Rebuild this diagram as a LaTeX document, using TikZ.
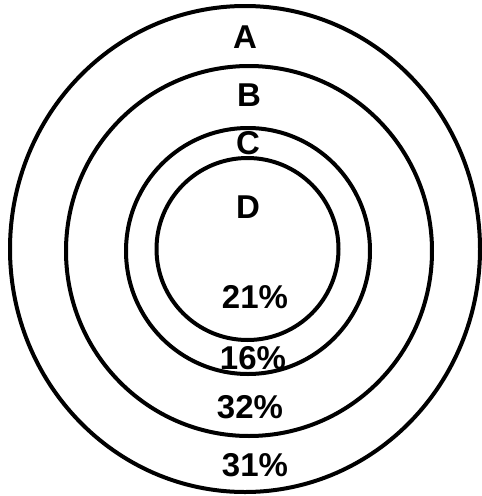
\documentclass[tikz,border=0pt]{standalone}
\usepackage{fontspec}
\setmainfont{Liberation Sans}
\begin{document}
\begin{tikzpicture}[x=1pt,y=-1pt,
  ring/.style={draw=black,line width=4pt},
  lab/.style={font=\fontsize{33}{33}\selectfont\bfseries,inner sep=0pt}]
\useasboundingbox (0,0) rectangle (482,496);
\draw[ring] (245,249) ellipse [x radius=235,y radius=243];
\draw[ring] (249,251) ellipse [x radius=183,y radius=185];
\draw[ring] (248,251) ellipse [x radius=122,y radius=123];
\draw[ring] (247.5,249) ellipse [x radius=91,y radius=91];
\node[lab] (a) at (245,37) {A};
\node[lab] (b) at (249,95) {B};
\node[lab] (c) at (248,143) {C};
\node[lab] (d) at (248,207) {D};
\node[lab] (p21) at (255,297) {21\%};
\node[lab] (p16) at (253,358) {16\%};
\node[lab] (p32) at (250,407) {32\%};
\node[lab] (p31) at (255,465) {31\%};
\end{tikzpicture}
\end{document}
